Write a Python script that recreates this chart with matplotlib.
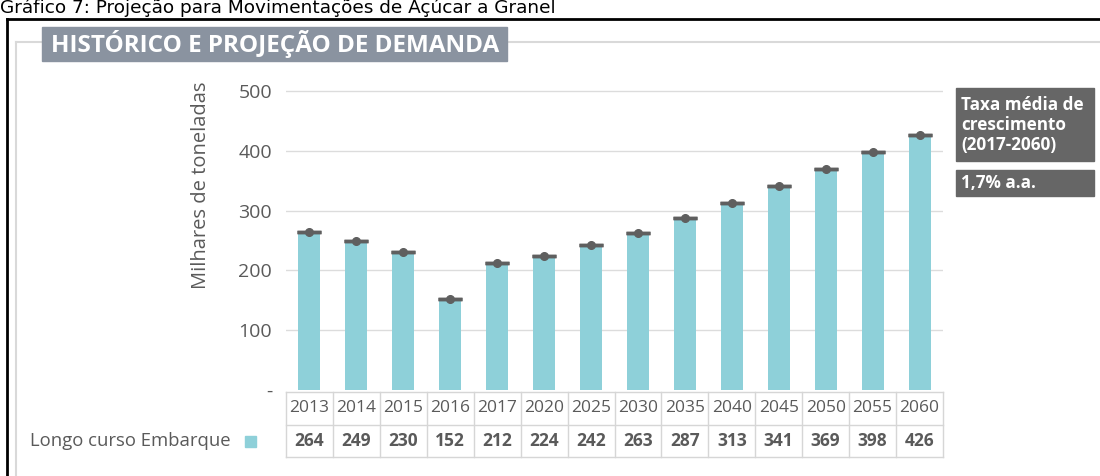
import matplotlib
matplotlib.use("Agg")
import matplotlib.pyplot as plt
from matplotlib.patches import Rectangle
from matplotlib.lines import Line2D

years = ["2013", "2014", "2015", "2016", "2017", "2020", "2025", "2030",
         "2035", "2040", "2045", "2050", "2055", "2060"]
values = [264, 249, 230, 152, 212, 224, 242, 263, 287, 313, 341, 369, 398, 426]
yticks = [0, 100, 200, 300, 400, 500]
ytick_labels = ["-", "100", "200", "300", "400", "500"]
series_name = "Longo curso Embarque"
title = "HISTÓRICO E PROJEÇÃO DE DEMANDA"
caption = "Gráfico 7: Projeção para Movimentações de Açúcar a Granel"
growth_label = "Taxa média de\ncrescimento\n(2017-2060)"
growth_value = "1,7% a.a."

W, H = 1100, 476
BAR = "#8ed0d9"
DARK = "#5f5f5f"
TXT = "#5a5a5a"
FONT = "Open Sans"

fig = plt.figure(figsize=(W / 100, H / 100), dpi=100)

def fx(px):
    return px / W

def fy(py):
    return 1 - py / H

# caption
fig.text(fx(0), fy(13), caption, fontsize=13.3, family="DejaVu Sans",
         va="baseline", ha="left", color="black")
# black outer border
fig.add_artist(Line2D([fx(7), fx(1100)], [fy(19), fy(19)], color="black", lw=2))
fig.add_artist(Line2D([fx(7), fx(7)], [fy(19), fy(476)], color="black", lw=2))
# grey frame
fig.add_artist(Line2D([fx(16), fx(1100)], [fy(42), fy(42)], color="#d9d9d9", lw=1.5))
fig.add_artist(Line2D([fx(16), fx(16)], [fy(42), fy(476)], color="#d9d9d9", lw=1.5))
# title box
fig.add_artist(Rectangle((fx(42), fy(61)), fx(507) - fx(42), fy(27) - fy(61),
                         transform=fig.transFigure, color="#8a93a0", zorder=3))
fig.text(fx(275), fy(44), title, fontsize=17.5, family=FONT, weight="bold",
         color="white", ha="center", va="center", zorder=4)

# main axes
left, right = 286, 943
top, bottom = 80, 390
ax = fig.add_axes([fx(left), fy(bottom), fx(right) - fx(left), (bottom - top) / H])
n = len(years)
x = list(range(n))
ymax = 500 + (91 - top) / ((390 - 91) / 500)
ax.set_xlim(-0.5, n - 0.5)
ax.set_ylim(0, ymax)
ax.bar(x, values, width=0.47, color=BAR, zorder=2)
ax.errorbar(x, values, yerr=0, fmt="o", color=DARK, ms=5.5, capsize=8.5,
            capthick=2.5, elinewidth=0, zorder=3)
ax.set_yticks(yticks)
ax.set_yticklabels(ytick_labels)
ax.tick_params(axis="y", length=0, pad=10, labelsize=14, labelcolor=TXT)
for lab in ax.get_yticklabels():
    lab.set_family(FONT)
ax.set_xticks([])
for s in ax.spines.values():
    s.set_visible(False)
for yt in yticks[1:]:
    ax.axhline(yt, color="#dcdcdc", lw=1, zorder=1)
fig.text(fx(201), fy(185), "Milhares de toneladas", fontsize=14.5, family=FONT,
         color=TXT, rotation=90, ha="center", va="center")

# table
tax = fig.add_axes([fx(left), fy(457), fx(right) - fx(left), (457 - 392) / H])
tax.set_xlim(-0.5, n - 0.5)
tax.set_ylim(0, 2)
tax.axis("off")
grid_c = "#d6d6d6"
for k in range(n + 1):
    tax.plot([k - 0.5, k - 0.5], [0, 2], color=grid_c, lw=1, clip_on=False)
for r in range(3):
    tax.plot([-0.5, n - 0.5], [r, r], color=grid_c, lw=1, clip_on=False)
for i, (yr, v) in enumerate(zip(years, values)):
    tax.text(i, 1.5, yr, ha="center", va="center", fontsize=12.5, family=FONT, color=TXT)
    tax.text(i, 0.5, str(v), ha="center", va="center", fontsize=12.5, family=FONT,
             weight="bold", color=TXT)

# legend label
fig.text(fx(30), fy(441), series_name, fontsize=13.3, family=FONT, color=TXT,
         ha="left", va="center")
fig.add_artist(Rectangle((fx(245), fy(447)), fx(11), 11 / H,
                         transform=fig.transFigure, color=BAR))

# growth boxes
fig.add_artist(Rectangle((fx(956), fy(161)), fx(138), 73 / H,
                         transform=fig.transFigure, color="#666666"))
fig.text(fx(961), fy(125), growth_label, fontsize=12.3, family=FONT, weight="bold",
         color="white", ha="left", va="center", linespacing=1.15)
fig.add_artist(Rectangle((fx(956), fy(196)), fx(138), 26 / H,
                         transform=fig.transFigure, color="#666666"))
fig.text(fx(961), fy(183), growth_value, fontsize=12.3, family=FONT, weight="bold",
         color="white", ha="left", va="center")

fig.savefig("out.png", dpi=100)
